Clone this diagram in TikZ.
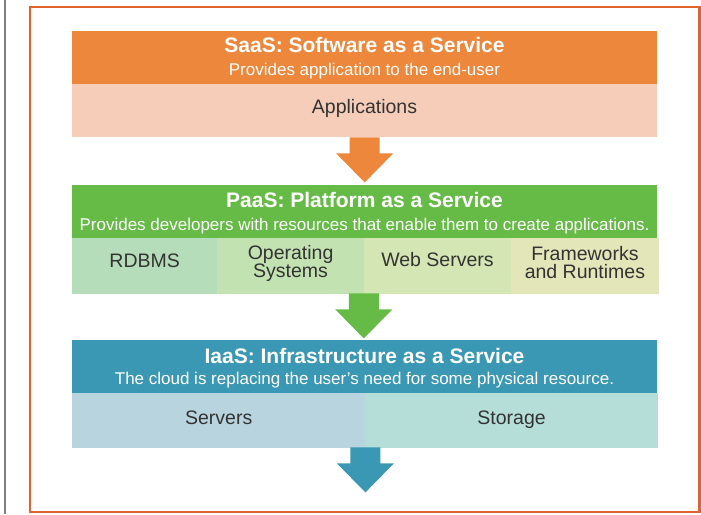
\documentclass[tikz,border=0pt]{standalone}
\usepackage{fontspec}
\setmainfont{Liberation Sans}
\usetikzlibrary{calc}
\definecolor{framered}{RGB}{224,98,45}
\definecolor{saasorange}{RGB}{237,135,59}
\definecolor{saaslight}{RGB}{246,205,184}
\definecolor{paasgreen}{RGB}{102,187,70}
\definecolor{rdbmsfill}{RGB}{182,221,185}
\definecolor{osfill}{RGB}{195,226,177}
\definecolor{webfill}{RGB}{211,230,180}
\definecolor{fwfill}{RGB}{226,230,184}
\definecolor{iaasblue}{RGB}{59,152,180}
\definecolor{serverfill}{RGB}{184,213,223}
\definecolor{storagefill}{RGB}{181,222,217}
\def\layerarrow[#1](#2){\fill[#1] ($(#2)+(-15,0)$) -- ++(0,16) -- ++(-13.5,0) -- ($(#2)+(0,45)$) -- ($(#2)+(28.5,16)$) -- ($(#2)+(15,16)$) -- ($(#2)+(15,0)$) -- cycle;}
\tikzset{
	layer/.style={rectangle, inner sep=0pt, anchor=north west, minimum width=585pt},
	cell/.style={rectangle, inner sep=0pt, anchor=north west, line width=0.4pt},
	paint/.style={fill=#1, draw=#1},
	ttl/.style={text=white, font=\fontsize{21}{24}\selectfont\bfseries, anchor=base, inner sep=0pt},
	sub/.style={text=white, font=\fontsize{17}{20}\selectfont, anchor=base, inner sep=0pt},
	item/.style={text=black!80, font=\fontsize{19.5}{18}\selectfont, anchor=base, inner sep=0pt, align=center}
}
\begin{document}
\begin{tikzpicture}[x=1pt, y=-1pt]
			%%%%% START %%%%%
			\useasboundingbox (0,0) rectangle (701,514);
			
			\draw[line width=2pt, color=gray] (5,0) -- (5,514);
			\draw[line width=2.5pt, color=framered] (30,7) rectangle (699.5,512);
			
			% SaaS
			\node[layer, fill=saasorange, minimum height=53pt] (saas) at (72,31) {};
			\node[layer, fill=saaslight, minimum height=53pt] (apps) at (72,84) {};
			\node[ttl] (saastitle) at (364.5,52) {SaaS: Software as a Service};
			\node[sub] (saassub) at (364.5,75.5) {Provides application to the end-user};
			\node[item] (appstext) at (364.5,113) {Applications};
			
			\layerarrow[saasorange](apps.south);
			
			% PaaS
			\node[layer, fill=paasgreen, minimum height=53pt] (paas) at (72,185) {};
			\node[cell, paint=rdbmsfill, minimum width=145pt, minimum height=55pt] (rdbms) at (72,238) {};
			\node[cell, paint=osfill, minimum width=146pt, minimum height=55pt] (os) at (rdbms.north east) {};
			\node[cell, paint=webfill, minimum width=147pt, minimum height=55pt] (web) at (os.north east) {};
			\node[cell, paint=fwfill, minimum width=147pt, minimum height=55pt] (fw) at (web.north east) {};
			\node[ttl] (paastitle) at (364.5,207.5) {PaaS: Platform as a Service};
			\node[sub] (paassub) at (364.5,230) {Provides developers with resources that enable them to create applications.};
			\node[item] (rdbmstext) at (rdbms.center |- 0,267.5) {RDBMS};
			\node[item] (ostext) at (os.center |- 0,277) {Operating\\Systems};
			\node[item] (webtext) at (web.center |- 0,266.5) {Web Servers};
			\node[item] (fwtext) at (fw.center |- 0,278) {Frameworks\\and Runtimes};
			
			\layerarrow[paasgreen](os.south east);
			
			% IaaS
			\node[layer, fill=iaasblue, minimum height=53pt] (iaas) at (72,340) {};
			\node[cell, paint=serverfill, minimum width=293pt, minimum height=54pt] (servers) at (72,393) {};
			\node[cell, paint=storagefill, minimum width=292pt, minimum height=54pt] (storage) at (servers.north east) {};
			\node[ttl] (iaastitle) at (364.5,363) {IaaS: Infrastructure as a Service};
			\node[sub] (iaassub) at (364.5,384) {The cloud is replacing the user’s need for some physical resource.};
			\node[item] (serverstext) at (servers.center |- 0,424) {Servers};
			\node[item] (storagetext) at (storage.center |- 0,424) {Storage};
			
			\layerarrow[iaasblue](servers.south east);
			%%%%% END %%%%%
\end{tikzpicture}
\end{document}
